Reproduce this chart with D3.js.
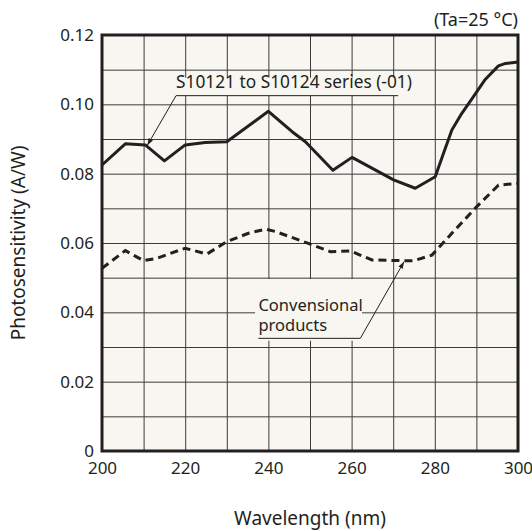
<!DOCTYPE html>
<html>
<head>
<meta charset="utf-8">
<script src="https://cdn.jsdelivr.net/npm/d3@7"></script>
<style>
  body { margin: 0; background: #fff; }
  svg { display: block; font-family: 'Noto Sans', sans-serif; }
</style>
</head>
<body>
<div id="chart"></div>
<script>
// Photosensitivity vs wavelength (S10121 to S10124 series)

const xTicks = [200, 220, 240, 260, 280, 300];
const yTicks = [0, 0.02, 0.04, 0.06, 0.08, 0.10, 0.12];
const yTickLabels = ['0', '0.02', '0.04', '0.06', '0.08', '0.10', '0.12'];

// S10121 to S10124 series (-01)
const seriesWl = [200, 205.6, 210.4, 215, 220, 224.8, 230, 240, 245.7, 248.9, 255.5, 260.1, 270.1, 275.3, 280.1, 282.1, 284.1, 286.5, 289, 292, 295.3, 297, 300];
const seriesVal = [0.0825, 0.0886, 0.0883, 0.0837, 0.0883, 0.0890, 0.0892, 0.0980, 0.0921, 0.0892, 0.0810, 0.0847, 0.0782, 0.0758, 0.0791, 0.0859, 0.0926, 0.0974, 0.1017, 0.1070, 0.1111, 0.1118, 0.1122];

// Conventional products
const convWl = [200, 205.6, 210, 213.2, 220, 225.2, 230, 235.2, 239.3, 241.7, 249.6, 254.9, 259.7, 264.9, 272.9, 275, 279.3, 284.1, 290.1, 295.3, 300];
const convVal = [0.0527, 0.0578, 0.0549, 0.0556, 0.0585, 0.0568, 0.0604, 0.0628, 0.0640, 0.0633, 0.0599, 0.0575, 0.0577, 0.0551, 0.0549, 0.0549, 0.0565, 0.0628, 0.0705, 0.0767, 0.0772];

const W = 532, H = 531;
const margin = { top: 35, right: 14, bottom: 80, left: 102 };
const w = W - margin.left - margin.right;
const h = H - margin.top - margin.bottom;
const ink = '#231f20';
const paper = '#f7f6f0';

const svg = d3.select('#chart').append('svg')
  .attr('width', W).attr('height', H);

const g = svg.append('g')
  .attr('transform', `translate(${margin.left},${margin.top})`);

const xScale = d3.scaleLinear().domain([200, 300]).range([0, w]);
const yScale = d3.scaleLinear().domain([0, 0.12]).range([h, 0]);

// plot background
g.append('rect').attr('width', w).attr('height', h).attr('fill', paper);

// grid
g.append('g')
  .call(d3.axisBottom(xScale).tickValues(d3.range(210, 300, 10)).tickSize(h).tickFormat(''))
  .call(a => a.select('.domain').remove())
  .call(a => a.selectAll('line').attr('stroke', '#3e3a3a').attr('stroke-width', 1));

g.append('g')
  .call(d3.axisLeft(yScale).tickValues(d3.range(1, 12).map(d => d / 100)).tickSize(-w).tickFormat(''))
  .call(a => a.select('.domain').remove())
  .call(a => a.selectAll('line').attr('stroke', '#3e3a3a').attr('stroke-width', 1));

// annotation backgrounds (hide grid behind text)
g.append('rect')
  .attr('x', xScale(217.2)).attr('y', yScale(0.1077))
  .attr('width', xScale(271.5) - xScale(217.2)).attr('height', yScale(0.1025) - yScale(0.1077))
  .attr('fill', paper);
g.append('rect')
  .attr('x', xScale(236.8)).attr('y', yScale(0.0496))
  .attr('width', xScale(262.5) - xScale(236.8)).attr('height', yScale(0.0318) - yScale(0.0496))
  .attr('fill', paper);

// curves
const line = d3.line()
  .x(d => xScale(d[0]))
  .y(d => yScale(d[1]));

g.append('path')
  .datum(convWl.map((d, i) => [d, convVal[i]]))
  .attr('d', line)
  .attr('fill', 'none')
  .attr('stroke', ink)
  .attr('stroke-width', 3)
  .attr('stroke-dasharray', '8,5');

g.append('path')
  .datum(seriesWl.map((d, i) => [d, seriesVal[i]]))
  .attr('d', line)
  .attr('fill', 'none')
  .attr('stroke', ink)
  .attr('stroke-width', 3)
  .attr('stroke-linejoin', 'round');

// arrow marker
svg.append('defs').append('marker')
  .attr('id', 'arr')
  .attr('viewBox', '0 0 10 10')
  .attr('refX', 10).attr('refY', 5)
  .attr('markerWidth', 7).attr('markerHeight', 7)
  .attr('markerUnits', 'userSpaceOnUse')
  .attr('orient', 'auto')
  .append('path').attr('d', 'M0,1.5L10,5L0,8.5Z').attr('fill', ink);

// label: series
g.append('text')
  .attr('x', xScale(217.8)).attr('y', yScale(0.1036) - 4)
  .attr('font-size', 17.3).attr('fill', ink)
  .text('S10121 to S10124 series (-01)');
g.append('polyline')
  .attr('points', [[xScale(271.2), yScale(0.1025)], [xScale(217.8), yScale(0.1025)], [xScale(210.9), yScale(0.0882)]].join(' '))
  .attr('fill', 'none').attr('stroke', ink).attr('stroke-width', 1)
  .attr('marker-end', 'url(#arr)');

// label: conventional
const conv = g.append('text')
  .attr('font-size', 16.5).attr('fill', ink);
conv.append('tspan').attr('x', xScale(237.6)).attr('y', yScale(0.0400) - 1).text('Convensional');
conv.append('tspan').attr('x', xScale(237.6)).attr('y', yScale(0.0343) - 1).text('products');
g.append('polyline')
  .attr('points', [[xScale(237.6), yScale(0.0325)], [xScale(262.1), yScale(0.0325)], [xScale(272.6), yScale(0.0546)]].join(' '))
  .attr('fill', 'none').attr('stroke', ink).attr('stroke-width', 1)
  .attr('marker-end', 'url(#arr)');

// frame
g.append('rect').attr('width', w).attr('height', h)
  .attr('fill', 'none').attr('stroke', ink).attr('stroke-width', 3);

// axes labels
g.append('g')
  .attr('transform', `translate(0,${h})`)
  .call(d3.axisBottom(xScale).tickValues(xTicks).tickSize(0).tickPadding(11))
  .call(a => a.select('.domain').remove())
  .call(a => a.selectAll('text').attr('font-size', 17).attr('font-family', 'Noto Sans').attr('fill', ink));

g.append('g')
  .call(d3.axisLeft(yScale).tickValues(yTicks).tickSize(0).tickPadding(8).tickFormat((d, i) => yTickLabels[i]))
  .call(a => a.select('.domain').remove())
  .call(a => a.selectAll('text').attr('font-size', 17).attr('font-family', 'Noto Sans').attr('fill', ink));

// titles
svg.append('text')
  .attr('x', margin.left + w / 2).attr('y', 525)
  .attr('text-anchor', 'middle')
  .attr('font-size', 19).attr('fill', ink)
  .text('Wavelength (nm)');

svg.append('text')
  .attr('transform', `translate(25,${margin.top + h / 2}) rotate(-90)`)
  .attr('text-anchor', 'middle')
  .attr('font-size', 19).attr('fill', ink)
  .text('Photosensitivity (A/W)');

svg.append('text')
  .attr('x', margin.left + w).attr('y', 26)
  .attr('text-anchor', 'end')
  .attr('font-size', 18).attr('fill', ink)
  .text('(Ta=25 °C)');
</script>
</body>
</html>
